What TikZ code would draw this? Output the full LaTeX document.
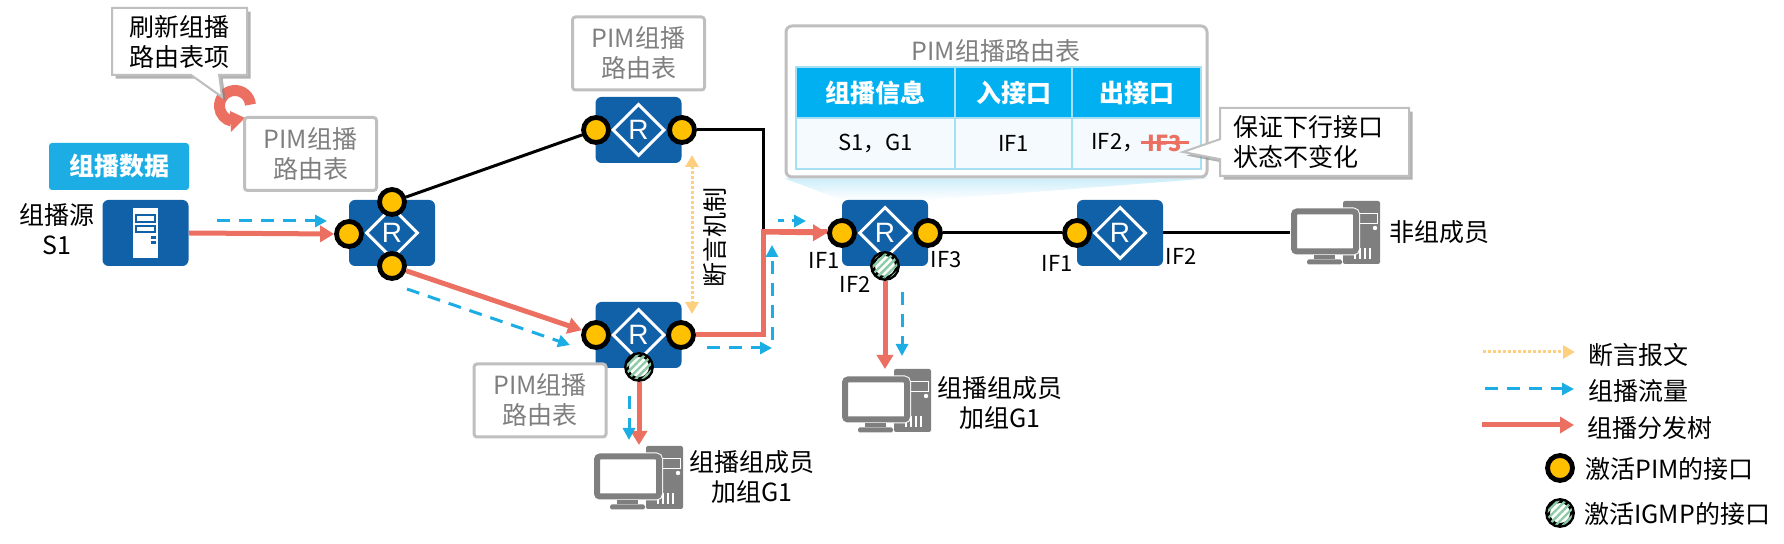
\documentclass[tikz,border=0pt]{standalone}
\usepackage{fontspec}
\setmainfont{Noto Sans CJK SC}
\newfontfamily\arialfont{Liberation Sans}
\usepackage{xcolor}
\usetikzlibrary{matrix,backgrounds,arrows.meta,shapes.geometric,shapes.callouts,shadows,patterns.meta}
\definecolor{routerblue}{HTML}{1161A9}
\definecolor{flowblue}{HTML}{1CADE4}
\definecolor{headblue}{HTML}{00B0F0}
\definecolor{cellblue}{HTML}{F4FAFE}
\definecolor{edgeblue}{HTML}{A5E0F5}
\definecolor{treered}{HTML}{EB7062}
\definecolor{assertyellow}{HTML}{FFCF80}
\definecolor{portyellow}{HTML}{FFC000}
\definecolor{stripegreen}{HTML}{8CCBA6}
\definecolor{boxgray}{HTML}{BFBFBF}
\definecolor{textgray}{HTML}{7F7F7F}
\newcommand{\fbig}{\fontsize{12.5}{15}\selectfont}
\newcommand{\fsmall}{\fontsize{11}{13}\selectfont}
\tikzset{
  routerbox/.style={fill=routerblue,rounded corners=3pt,minimum width=43pt,minimum height=33pt,inner sep=0pt},
  rdiamond/.style={diamond,draw=white,line width=1.5pt,minimum width=26pt,minimum height=26pt,inner sep=0pt,
    text=white,font=\arialfont\fontsize{14}{14}\selectfont},
  pimport/.style={circle,draw=black,line width=2.4pt,fill=portyellow,minimum size=12.5pt,inner sep=0pt},
  igmpport/.style={circle,draw=black,line width=2.4pt,fill=white,minimum size=12.5pt,inner sep=0pt,
    postaction={pattern={Lines[angle=45,distance=2.6pt,line width=1.2pt]},pattern color=stripegreen}},
  lbl/.style={font=\fbig,align=center,inner sep=0pt},
  iflbl/.style={font=\fsmall,inner sep=0pt},
  pimbox/.style={draw=boxgray,line width=1.5pt,fill=white,rounded corners=1.5pt,minimum width=66pt,minimum height=36.5pt,
    font=\fbig,text=textgray,align=center,inner sep=0pt},
  notebox/.style={rectangle callout,draw=boxgray,line width=1pt,fill=white,font=\fbig,align=left,inner sep=0pt,
    drop shadow={shadow xshift=1.8pt,shadow yshift=-1.8pt,fill=gray,opacity=.6}},
  tree/.style={draw=treered,line width=2.5pt,-{Triangle[length=7pt,width=8pt,fill=treered]}},
  treeline/.style={draw=treered,line width=2.5pt},
  mflow/.style={draw=flowblue,line width=1.5pt,dash pattern=on 6.5pt off 4.5pt,-{Triangle[length=6pt,width=6pt,fill=flowblue]}},
  assertflow/.style={draw=assertyellow,line width=1.5pt,dash pattern=on 1.5pt off 1pt},
  link/.style={draw=black,line width=1.5pt},
  cellbox/.style={draw=edgeblue,line width=.8pt,minimum height=25.5pt,inner sep=0pt,anchor=center}
}
% desktop pc, #1 name, (#2,#3) centre of the screen
\newcommand{\pcicon}[3]{
  \begin{scope}[shift={(#2,#3)}]
    \node[fill=textgray,rounded corners=1pt,minimum width=18.5pt,minimum height=31.5pt,inner sep=0pt] (#1tower) at (36.5,1) {};
    \draw[white,line width=.6pt] (27.5,-18) rectangle (52.5,-8);
    \fill[white] (50,-3.5) circle (2.2);
    \foreach \xv in {30,35,40,45} \draw[white,line width=.6pt] (\xv,17) -- (\xv,28);
    \node[draw=textgray,fill=white,line width=3pt,rounded corners=1.5pt,minimum width=31pt,minimum height=20pt,inner sep=0pt,
      outer sep=0pt,preaction={draw=white,line width=4pt}] (#1) at (0,0) {};
    \fill[textgray] (-11,24) rectangle (10,28);
    \fill[textgray,rounded corners=.8pt] (-18,28) rectangle (17,33);
  \end{scope}
}

\begin{document}
\begin{tikzpicture}[x=0.5pt,y=-0.5pt]
  \useasboundingbox (0,0) rectangle (1784,544);

  % table panel
  \node[draw=boxgray,line width=1.5pt,fill=white,rounded corners=3pt,minimum width=210.5pt,minimum height=75.5pt,inner sep=0pt] (panel) at (996.5,101.5) {};
  \node[lbl,text=textgray] (paneltitle) at (996,51) {PIM组播路由表};
  \matrix (tbl) [matrix of nodes,nodes in empty cells,anchor=north west,inner sep=0pt,row sep=-.8pt,column sep=-.8pt,
      nodes={cellbox,fill=cellblue,font=\fsmall},
      row 1/.style={nodes={fill=headblue,text=white,font=\fbig\bfseries}},
      column 1/.style={nodes={minimum width=79.5pt}},
      column 2/.style={nodes={minimum width=58.5pt}},
      column 3/.style={nodes={minimum width=64.5pt}}] at (795,66)
  {
    组播信息 & 入接口 & 出接口 \\
    S1，G1   & IF1    &        \\
  };
  \node[iflbl,anchor=west] (ifkeep) at (1091,143) {IF2，};
  \node[iflbl,text=treered,inner xsep=3pt,font=\fsmall\bfseries] (ifdrop) at (1165,143) {IF3};
  \draw[treered,line width=1.5pt] (ifdrop.west) -- (ifdrop.east);

  % routers
  \node[routerbox] (src) at (145.5,233) {};
  \node[routerbox] (ra) at (392,233) {};
  \node[routerbox] (rb) at (638.5,130) {};
  \node[routerbox] (rc) at (638.5,335) {};
  \node[routerbox] (rd) at (885,233) {};
  \node[routerbox] (re) at (1120,233) {};
  \foreach \rname in {ra,rb,rc,rd,re}
    \node[rdiamond] (\rname diam) at (\rname) {R};

  % server
  \fill[white] (133,208) rectangle (158,258);
  \draw[routerblue,line width=.8pt] (136,215) rectangle (155,222);
  \draw[routerblue,line width=.8pt] (136,226) rectangle (155,232);
  \fill[routerblue] (151,236) rectangle (156,239);
  \fill[routerblue] (151,241) rectangle (156,244);

  % ports
  \node[pimport] (raw) at (349,234) {};
  \node[pimport] (ran) at (392,202) {};
  \node[pimport] (ras) at (392,266) {};
  \node[pimport] (rbw) at (596,130) {};
  \node[pimport] (rbe) at (682,130) {};
  \node[pimport] (rcw) at (596,335) {};
  \node[pimport] (rce) at (681,335) {};
  \node[igmpport] (rcs) at (639,367) {};
  \node[pimport] (rdw) at (842,233) {};
  \node[pimport] (rde) at (928,233) {};
  \node[igmpport] (rds) at (885,266) {};
  \node[pimport] (rew) at (1077,233) {};

  % hosts
  \pcicon{pca}{628}{476.5}
  \pcicon{pcb}{876}{399.5}
  \pcicon{pcc}{1325}{231.5}

  % boxes
  \node[pimbox] (tabla) at (310.5,154) {PIM组播\\路由表};
  \node[pimbox] (tablb) at (638.5,53.5) {PIM组播\\路由表};
  \node[pimbox] (tablc) at (540,400.5) {PIM组播\\路由表};
  \node[fill=flowblue,rounded corners=1.5pt,minimum width=70pt,minimum height=23.5pt,inner sep=0pt,text=white,font=\fbig\bfseries] (mdata) at (119,166.5) {组播数据};
  \node[notebox,align=center,minimum width=67.5pt,minimum height=33.5pt,callout absolute pointer={(222,97)},callout pointer width=14pt] (noterefresh) at (179.5,41.5) {刷新组播\\路由表项};
  \node[notebox,text width=81pt,inner xsep=6.75pt,minimum height=34pt,callout absolute pointer={(1183,152)},callout pointer width=10pt] (notekeep) at (1314.5,142) {保证下行接口\\状态不变化};

  % texts
  \node[lbl] (srcname) at (57,229) {组播源\\S1};
  \node[lbl] (pcaname) at (752,477.5) {组播组成员\\加组G1};
  \node[lbl] (pcbname) at (1000,403) {组播组成员\\加组G1};
  \node[lbl] (pccname) at (1439,232) {非组成员};
  \node[lbl,rotate=90] (assertname) at (715,238) {断言机制};
  \node[iflbl] (ifa) at (824,260) {IF1};
  \node[iflbl] (ifb) at (855,284) {IF2};
  \node[iflbl] (ifc) at (946,260) {IF3};
  \node[iflbl] (ifd) at (1057,263) {IF1};
  \node[iflbl] (ife) at (1181,256) {IF2};

  % free ends
  \coordinate (turn) at (763,232);
  \coordinate (fa1) at (217,221);   \coordinate (fa2) at (327,221);
  \coordinate (fb1) at (407,289);   \coordinate (fb2) at (570,345);
  \coordinate (fc1) at (629,396);   \coordinate (fc2) at (629,440);
  \coordinate (fd1) at (707,348);   \coordinate (fd2) at (772,348);
  \coordinate (fe1) at (772,340);   \coordinate (fe2) at (772,245);
  \coordinate (ff1) at (778,221);   \coordinate (ff2) at (806,221);
  \coordinate (fg1) at (902,292);   \coordinate (fg2) at (902,356);
  \coordinate (ta) at (639,445);    \coordinate (tb) at (885,369);
  \coordinate (ya) at (692,155);    \coordinate (yb) at (692,314);

  \begin{pgfonlayer}{background}
    \shade[top color=edgeblue!55,bottom color=white] (panel.south west) -- (panel.south east) -- (930,200) -- (842,200) -- cycle;
    % refresh mark
    \draw[treered,line width=5.5pt] (235,106) ++(-5:15.5) arc[start angle=-5,end angle=-258,radius=15.5];
    \fill[treered] (231,132) -- (245,118) -- (230,111) -- cycle;
    \draw[link] (ran) -- (rbw);
    \draw[link] (rbe.east) -| (turn);
    \draw[link] (rde) -- (rew);
    \draw[link] (re.east) -- (re.east -| pcc.west);
    \draw[treeline] (rce.east) -| (turn) -- (turn -| rdw.west);
  \end{pgfonlayer}
  \draw[tree] (src.east) -- (raw.west);
  \draw[tree] (ras) -- (rcw);
  \draw[tree] (rcs.south) -- (ta);
  \draw[tree] (rds.south) -- (tb);
  \draw[tree] (turn) -- (rdw.west);
  \draw[mflow] (fa1) -- (fa2);
  \draw[mflow] (fb1) -- (fb2);
  \draw[mflow] (fc1) -- (fc2);
  \draw[mflow] (fd1) -- (fd2);
  \draw[mflow] (fe1) -- (fe2);
  \draw[mflow,dash pattern=on 3pt off 4pt] (ff1) -- (ff2);
  \draw[mflow] (fg1) -- (fg2);
  \draw[assertflow,{Triangle[length=6pt,width=6.5pt,fill=assertyellow]}-{Triangle[length=6pt,width=6.5pt,fill=assertyellow]}] (ya) -- (yb);

  % legend
  \node[lbl,anchor=west] (lgassert) at (1588,355) {断言报文};
  \node[lbl,anchor=west] (lgflow) at (1588,391) {组播流量};
  \node[lbl,anchor=west] (lgtree) at (1587,428) {组播分发树};
  \node[pimport] (lgpim) at (1560,468) {};
  \node[lbl,anchor=west] (lgpimname) at (1585,469) {激活PIM的接口};
  \node[igmpport] (lgigmp) at (1560,513) {};
  \node[lbl,anchor=west] (lgigmpname) at (1584,514) {激活IGMP的接口};
  \coordinate (la1) at (1483,352);  \coordinate (la2) at (1575,352);
  \coordinate (lb1) at (1485,389);  \coordinate (lb2) at (1574,389);
  \coordinate (lc1) at (1482,425);  \coordinate (lc2) at (1574,425);
  \draw[assertflow,-{Triangle[length=6pt,width=6.5pt,fill=assertyellow]}] (la1) -- (la2);
  \draw[mflow] (lb1) -- (lb2);
  \draw[tree] (lc1) -- (lc2);
\end{tikzpicture}
\end{document}
